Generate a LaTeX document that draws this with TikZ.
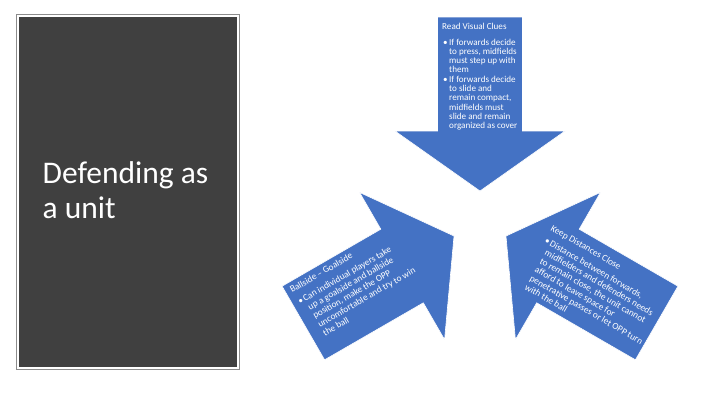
\documentclass[tikz,border=0pt]{standalone}
\usepackage{fontspec}
\setmainfont{Carlito}
\definecolor{arrowblue}{HTML}{4472C4}
\definecolor{panelgrey}{HTML}{404040}
\definecolor{frameline}{HTML}{8C8C8C}
\newcommand{\bulitem}{\hspace*{1pt}\makebox[6pt][l]{•}\ignorespaces}
\newcommand{\contline}{\hspace*{7pt}\ignorespaces}
\tikzset{
  bigarrow/.style={fill=arrowblue, draw=white, line width=0.6pt, line join=miter},
  arrowtext/.style={text=white, font=\fontsize{9.1}{9.3}\selectfont, align=left, inner sep=0pt},
  rottext/.style={text=white, font=\fontsize{9.3}{10}\selectfont, align=left, inner sep=0pt},
  paneltext/.style={text=white, font=\fontsize{31.5}{35.5}\selectfont, align=left, inner sep=0pt}
}
\begin{document}
\begin{tikzpicture}[x=1pt,y=-1pt]
\useasboundingbox[fill=white] (0,0) rectangle (720,405);
% left panel
\draw[frameline, line width=1pt] (16,14) rectangle (239,369);
\fill[panelgrey] (18.5,16.5) rectangle (236.5,366.5);
\node[paneltext, anchor=base west] (title) at (42.5,218.8) {Defending as\\a unit};
% arrows
\coordinate (C) at (480,221);
\def\arrowpath{(437.5,17) -- (522.5,17) -- (522.5,131) -- (565,131) -- (480,191) -- (395,131) -- (437.5,131) -- cycle}
\path[bigarrow] \arrowpath;
\path[bigarrow, rotate around={120:(C)}] \arrowpath;
\path[bigarrow, rotate around={-120:(C)}] \arrowpath;
% texts (anchored at the baseline of their last line)
\node[arrowtext, anchor=base west] (toptext) at (442,128.7)
 {Read Visual Clues\\[6.2pt]
  \bulitem If forwards decide\\
  \contline to press, midfields\\
  \contline must step up with\\
  \contline them\\
  \bulitem If forwards decide\\
  \contline to slide and\\
  \contline remain compact,\\
  \contline midfields must\\
  \contline slide and remain\\
  \contline organized as cover};
\node[rottext, anchor=base west, rotate=30] (lefttext) at (319,339.8)
 {Ballside -- Goalside\\[4pt]
  \bulitem Can individual players take\\
  \contline up a goalside and ballside\\
  \contline position, make the OPP\\
  \contline uncomfortable and try to win\\
  \contline the ball};
\node[rottext, anchor=base west, rotate=-30] (righttext) at (518,285.4)
 {Keep Distances Close\\[4pt]
  \bulitem Distance between forwards,\\
  \contline midfielders and defenders needs\\
  \contline to remain close, the unit cannot\\
  \contline afford to leave space for\\
  \contline penetrative passes or let OPP turn\\
  \contline with the ball};
\end{tikzpicture}
\end{document}
